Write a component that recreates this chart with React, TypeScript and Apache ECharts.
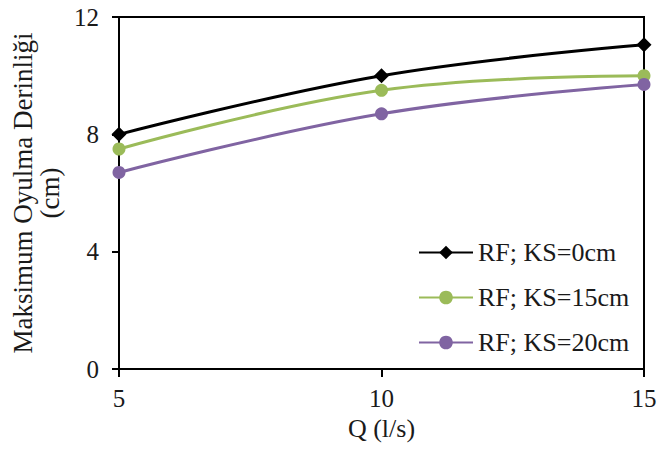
import React, { useEffect, useRef } from "react";
import * as echarts from "echarts";

const seriesNames = ["RF; KS=0cm", "RF; KS=15cm", "RF; KS=20cm"];
const qValues = [5, 10, 15];
const ks0 = [8.0, 10.0, 11.05];
const ks15 = [7.5, 9.5, 10.0];
const ks20 = [6.7, 8.7, 9.7];
const colors = ["#000000", "#9BBB59", "#8064A2"];
const symbols = ["diamond", "circle", "circle"];

const FONT = "Liberation Serif";

export default function App() {
  const ref = useRef<HTMLDivElement>(null);
  useEffect(() => {
    if (!ref.current) return;
    const chart = echarts.init(ref.current, undefined, { renderer: "svg" });
    const all = [ks0, ks15, ks20];
    chart.setOption({
      animation: false,
      backgroundColor: "#ffffff",
      textStyle: { fontFamily: FONT, color: "#1a1a1a" },
      grid: {
        left: 119,
        right: 16,
        top: 17,
        bottom: 86,
        show: true,
        borderColor: "#000",
        borderWidth: 2,
        containLabel: false,
      },
      legend: {
        orient: "vertical",
        left: 418,
        top: 239,
        padding: 0,
        itemWidth: 54,
        itemHeight: 17,
        itemGap: 18,
        data: seriesNames,
        textStyle: { fontFamily: FONT, fontSize: 26, lineHeight: 27, color: "#1a1a1a" },
      },
      xAxis: {
        type: "value",
        min: 5,
        max: 15,
        interval: 5,
        name: "Q (l/s)",
        nameLocation: "middle",
        nameGap: 44,
        nameTextStyle: { fontFamily: FONT, fontSize: 26, color: "#1a1a1a" },
        axisLine: { show: true, lineStyle: { color: "#000", width: 2 } },
        axisTick: { show: true, length: 8, lineStyle: { color: "#000", width: 2 } },
        axisLabel: { fontFamily: FONT, fontSize: 25, color: "#1a1a1a", margin: 17 },
        splitLine: { show: false },
      },
      yAxis: {
        type: "value",
        min: 0,
        max: 12,
        interval: 4,
        name: "Maksimum Oyulma Derinliği\n(cm)",
        nameLocation: "middle",
        nameRotate: 90,
        nameGap: 53,
        nameTextStyle: { fontFamily: FONT, fontSize: 27, lineHeight: 27, color: "#1a1a1a", align: "center" },
        axisLine: { show: true, lineStyle: { color: "#000", width: 2 } },
        axisTick: { show: true, length: 7, lineStyle: { color: "#000", width: 2 } },
        axisLabel: { fontFamily: FONT, fontSize: 25, color: "#1a1a1a", margin: 20 },
        splitLine: { show: false },
      },
      series: seriesNames.map((name, i) => ({
        name,
        type: "line",
        smooth: 0.4,
        data: qValues.map((q, j) => [q, all[i][j]]),
        symbol: symbols[i],
        symbolSize: i === 0 ? 15 : 13,
        lineStyle: { color: colors[i], width: 3 },
        itemStyle: { color: colors[i] },
      })),
    });
    return () => chart.dispose();
  }, []);
  return <div ref={ref} style={{ width: 660, height: 455, position: "absolute", left: 0, top: 0 }} />;
}
